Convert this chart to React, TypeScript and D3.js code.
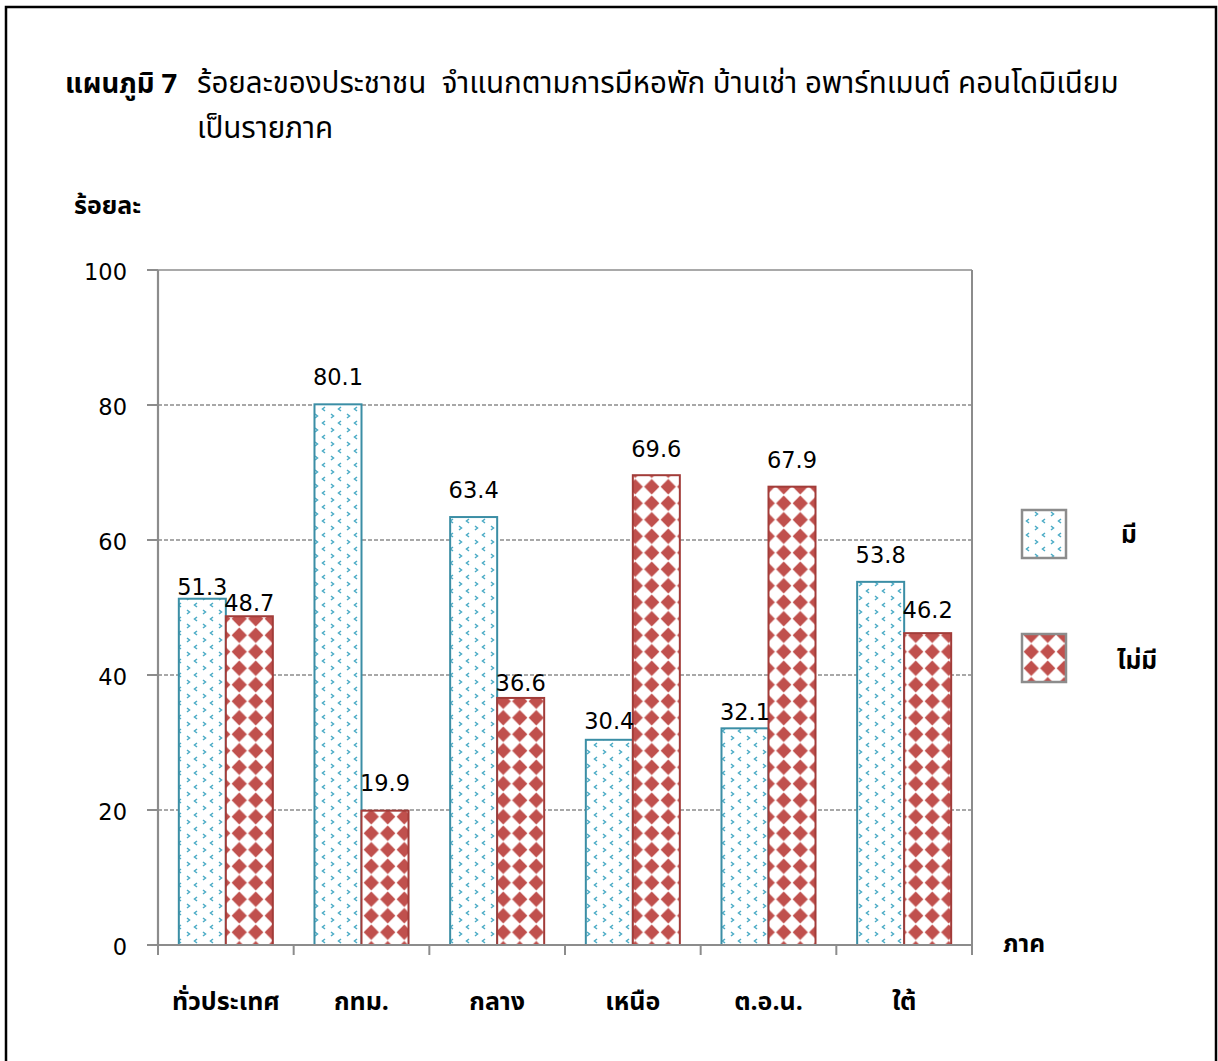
import React from "react";
import * as d3 from "d3";

const categories = ["ทั่วประเทศ", "กทม.", "กลาง", "เหนือ", "ต.อ.น.", "ใต้"];
const hasValues = [51.3, 80.1, 63.4, 30.4, 32.1, 53.8];
const noValues = [48.7, 19.9, 36.6, 69.6, 67.9, 46.2];
const seriesNames = ["มี", "ไม่มี"];
const yTicks = [0, 20, 40, 60, 80, 100];
const titleBold = "แผนภูมิ 7";
const titleLine1 = "ร้อยละของประชาชน  จำแนกตามการมีหอพัก บ้านเช่า อพาร์ทเมนต์ คอนโดมิเนียม";
const titleLine2 = "เป็นรายภาค";
const yAxisTitle = "ร้อยละ";
const xAxisTitle = "ภาค";

// layout (px lift of each value label above its bar)
const hasLift = [4, 19, 19, 11, 8, 19];
const noLift = [5, 20, 7, 18, 19, 15];

const THAI = "'Noto Sans Thai', 'Noto Sans Thai UI', 'Leelawadee UI', Tahoma, 'DejaVu Sans', sans-serif";
const NUM = "'DejaVu Sans', Tahoma, sans-serif";

export default function App() {
  const W = 1218, H = 1061;
  const left = 158, right = 972, top = 270, bottom = 945;
  const x = d3.scaleBand<string>().domain(categories).range([left, right]).padding(0);
  const y = d3.scaleLinear().domain([0, 100]).range([bottom, top]);
  const bw = x.bandwidth();
  const barW = bw * 0.3465;
  const off = (bw - 2 * barW) / 2;
  const teal = "#4BACC6";
  const tealStroke = "#3B8EA5";
  const red = "#C0504D";
  const redStroke = "#A23C39";
  const grid = "#8C8C8C";
  const boundaries = d3.range(categories.length + 1).map((i) => left + i * bw);

  return (
    <>
      <style>{`body{margin:0}`}</style>
      <svg width={W} height={H} style={{ display: "block", background: "#fff" }}>
        <defs>
          <pattern id="pHas" patternUnits="userSpaceOnUse" width={16} height={14}>
            <rect width={16} height={14} fill="#fff" />
            <path d="M5,1 L2.5,3 L5,5" fill="none" stroke={teal} strokeWidth={1.5} />
            <path d="M11,8 L13.5,10 L11,12" fill="none" stroke={teal} strokeWidth={1.5} />
          </pattern>
          <pattern id="pNo" patternUnits="userSpaceOnUse" width={16.5} height={16.5}>
            <rect width={16.5} height={16.5} fill="#fff" />
            <path d="M8.25,0.6 L15.9,8.25 L8.25,15.9 L0.6,8.25 Z" fill={red} />
          </pattern>
        </defs>
        <rect x={6} y={7} width={1210} height={1070} fill="none" stroke="#000" strokeWidth={2.5} />

        {/* title */}
        <text x={65} y={93} fontFamily={THAI} fontSize={27.5} fontWeight="bold" fill="#000">{titleBold}</text>
        <text x={197} y={93} fontFamily={THAI} fontSize={29.5} fill="#000" style={{ whiteSpace: "pre" }}>{titleLine1}</text>
        <text x={197} y={138} fontFamily={THAI} fontSize={29.5} fill="#000">{titleLine2}</text>

        <text x={74} y={214} fontFamily={THAI} fontSize={25} fontWeight="bold" fill="#000">{yAxisTitle}</text>

        {/* gridlines */}
        {yTicks.filter((t) => t > 0 && t < 100).map((t) => (
          <line key={t} x1={left} x2={right} y1={y(t)} y2={y(t)} stroke={grid} strokeWidth={1.3} strokeDasharray="4,2" />
        ))}
        <line x1={left} x2={right} y1={y(100)} y2={y(100)} stroke={grid} strokeWidth={1.5} />
        <line x1={right} x2={right} y1={y(100)} y2={bottom} stroke={grid} strokeWidth={2} />

        {/* bars */}
        {categories.map((c, i) => {
          const x0 = (x(c) as number) + off;
          return (
            <g key={c}>
              <rect x={x0} y={y(hasValues[i])} width={barW} height={bottom - y(hasValues[i])} fill="url(#pHas)" stroke={tealStroke} strokeWidth={2} />
              <rect x={x0 + barW} y={y(noValues[i])} width={barW} height={bottom - y(noValues[i])} fill="url(#pNo)" stroke={redStroke} strokeWidth={2} />
              <text x={x0 + barW / 2} y={y(hasValues[i]) - hasLift[i]} textAnchor="middle" fontFamily={NUM} fontSize={22.5} fill="#000">{hasValues[i].toFixed(1)}</text>
              <text x={x0 + barW * 1.5} y={y(noValues[i]) - noLift[i]} textAnchor="middle" fontFamily={NUM} fontSize={22.5} fill="#000">{noValues[i].toFixed(1)}</text>
            </g>
          );
        })}

        {/* axes */}
        <line x1={left} x2={left} y1={y(100)} y2={bottom} stroke={grid} strokeWidth={2.2} />
        {yTicks.map((t) => (
          <g key={t}>
            <line x1={left - 11} x2={left} y1={y(t)} y2={y(t)} stroke={grid} strokeWidth={2} />
            <text x={127} y={y(t) + 10} textAnchor="end" fontFamily={NUM} fontSize={22.5} fill="#000">{t}</text>
          </g>
        ))}
        <line x1={left} x2={right} y1={bottom} y2={bottom} stroke={grid} strokeWidth={2.2} />
        {boundaries.map((b, i) => (
          <line key={i} x1={b} x2={b} y1={bottom} y2={bottom + 10} stroke={grid} strokeWidth={2} />
        ))}
        {categories.map((c) => (
          <text key={c} x={(x(c) as number) + bw / 2} y={1010} textAnchor="middle" fontFamily={THAI} fontSize={25} fontWeight="bold" fill="#000">{c}</text>
        ))}
        <text x={1003} y={952} fontFamily={THAI} fontSize={24.5} fontWeight="bold" fill="#000">{xAxisTitle}</text>

        {/* legend */}
        <rect x={1022} y={510} width={44} height={48} fill="url(#pHas)" stroke={grid} strokeWidth={2.5} />
        <rect x={1022} y={634} width={44} height={48} fill="url(#pNo)" stroke={grid} strokeWidth={2.5} />
        <text x={1121} y={543} fontFamily={THAI} fontSize={24.5} fontWeight="bold" fill="#000">{seriesNames[0]}</text>
        <text x={1117} y={669} fontFamily={THAI} fontSize={24.5} fontWeight="bold" fill="#000">{seriesNames[1]}</text>
      </svg>
    </>
  );
}
